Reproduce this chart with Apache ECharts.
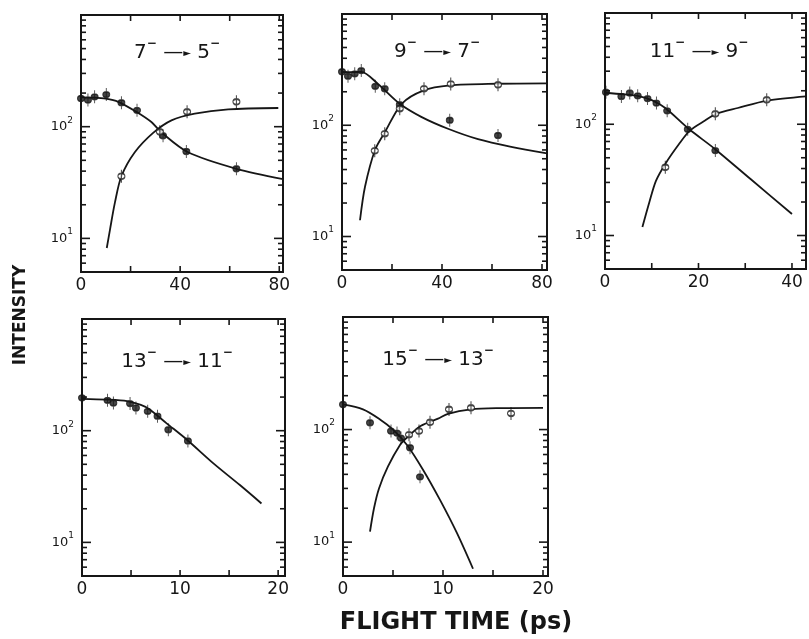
<!DOCTYPE html>
<html>
<head>
<meta charset="utf-8">
<script src="https://cdn.jsdelivr.net/npm/echarts@6/dist/echarts.min.js"></script>
<style>
html, body { margin: 0; padding: 0; background: #fff; }
#chart { width: 809px; height: 639px; }
</style>
</head>
<body>
<div id="chart"></div>
<script>
// ---- data (flight time in ps, intensity) ----
// panel 1: 7- -> 5-
var p1DecayT = [0, 2.8, 5.5, 10.2, 16.3, 22.6, 33.1, 42.5, 62.7];
var p1DecayI = [179, 173, 185, 194, 164, 140, 83, 60, 42];
var p1GrowT = [16.3, 31.8, 42.8, 62.7];
var p1GrowI = [36, 90, 136, 167];
var p1DecayFitT = [0, 5, 10, 15, 22.3, 28.4, 32.4, 43.2, 62.7, 81.5];
var p1DecayFitI = [183, 182, 178, 167, 136, 110, 89, 59, 42, 34];
var p1GrowFitT = [10.4, 11.7, 13.7, 16.3, 21.7, 29.1, 36.5, 45.9, 59.4, 79.6];
var p1GrowFitI = [8.2, 12, 21, 36, 59, 88, 114, 131, 143, 147];

// panel 2: 9- -> 7-
var p2DecayT = [0, 2.4, 5.1, 7.7, 13.3, 17.1, 23.1, 43.1, 62.4];
var p2DecayI = [303, 276, 290, 310, 224, 213, 153, 111, 81];
var p2GrowT = [13.1, 17.1, 23.1, 32.8, 43.5, 62.4];
var p2GrowI = [59, 84, 141, 213, 235, 231];
var p2DecayFitT = [0, 4, 7.7, 14.4, 23.1, 31.7, 42.4, 54.4, 67.7, 82];
var p2DecayFitI = [300, 300, 302, 235, 156, 119, 93, 75, 64, 56];
var p2GrowFitT = [7.2, 9.2, 13.2, 17.2, 23.9, 32.5, 43.2, 61.9, 82];
var p2GrowFitI = [14, 28, 60, 87, 156, 205, 228, 236, 238];

// panel 3: 11- -> 9-
var p3DecayT = [0.2, 3.5, 5.3, 7.0, 9.1, 11.0, 13.3, 17.7, 23.6];
var p3DecayI = [194, 178, 191, 180, 170, 155, 132, 90, 58];
var p3GrowT = [12.9, 23.6, 34.6];
var p3GrowI = [41, 124, 166];
var p3DecayFitT = [0, 4, 7, 10, 12.9, 17.9, 23.5, 31.2, 40];
var p3DecayFitI = [192, 186, 180, 165, 140, 91, 60, 32, 15.6];
var p3GrowFitT = [8, 9.5, 10.9, 12.9, 15.8, 18.2, 21.4, 23.8, 28.4, 34.7, 43];
var p3GrowFitI = [11.9, 20, 31, 44, 66, 88, 108, 124, 140, 163, 178];

// panel 4: 13- -> 11-
var p4DecayT = [0, 2.6, 3.2, 4.9, 5.5, 6.7, 7.7, 8.8, 10.8];
var p4DecayI = [197, 187, 177, 175, 160, 149, 135, 102, 81];
var p4DecayFitT = [0, 2.5, 4.6, 6, 6.9, 8.6, 10.7, 13.4, 16.1, 18.3];
var p4DecayFitI = [193, 190, 184, 170, 155, 117, 83, 51, 32.6, 22.3];

// panel 5: 15- -> 13-
var p5DecayT = [0, 2.7, 4.8, 5.4, 5.8, 6.7, 7.7];
var p5DecayI = [167, 115, 97, 93, 84, 69, 38];
var p5GrowT = [6.6, 7.6, 8.7, 10.6, 12.8, 16.8];
var p5GrowI = [90, 97, 116, 151, 156, 139];
var p5DecayFitT = [0, 2, 3.7, 5, 6.4, 8, 9.7, 11.4, 13];
var p5DecayFitI = [167, 151, 123, 100, 73, 44, 23.7, 12, 5.8];
var p5GrowFitT = [2.7, 3.1, 3.6, 4.5, 5.7, 6.4, 7.8, 9.5, 10.5, 12.8, 15.4, 20];
var p5GrowFitI = [12.4, 20, 30, 47, 73, 85, 108, 125, 138, 151, 155, 156];

// ticks of the log intensity axis and of the time axes
var yMinorTicks = [5, 6, 7, 8, 9, 20, 30, 40, 50, 60, 70, 80, 90, 200, 300, 400, 500, 600, 700, 800, 900];
var yMajorTicks = [10, 100, 1000];
var xTicksLong = [20, 40, 60, 80];
var xTicksMid = [10, 20, 30, 40];
var xTicksShort = [5, 10, 15, 20];
var yMin = 5, yMax = 1000;

function zip(t, v) {
    return t.map(function (x, i) { return [x, v[i]]; });
}

// layout of the five frames
var panels = [
    { box: { left: 81, top: 15, width: 202, height: 257 }, xMax: 81.5, labelStep: 40, xTicks: xTicksLong,
      title: ['7', '5'], tx: 177, ty: 53,
      decay: zip(p1DecayT, p1DecayI), grow: zip(p1GrowT, p1GrowI),
      decayFit: zip(p1DecayFitT, p1DecayFitI), growFit: zip(p1GrowFitT, p1GrowFitI) },
    { box: { left: 342, top: 14, width: 205, height: 256 }, xMax: 82, labelStep: 40, xTicks: xTicksLong,
      title: ['9', '7'], tx: 437, ty: 52,
      decay: zip(p2DecayT, p2DecayI), grow: zip(p2GrowT, p2GrowI),
      decayFit: zip(p2DecayFitT, p2DecayFitI), growFit: zip(p2GrowFitT, p2GrowFitI) },
    { box: { left: 605, top: 13, width: 204, height: 256 }, xMax: 43, labelStep: 20, xTicks: xTicksMid,
      title: ['11', '9'], tx: 699, ty: 52,
      decay: zip(p3DecayT, p3DecayI), grow: zip(p3GrowT, p3GrowI),
      decayFit: zip(p3DecayFitT, p3DecayFitI), growFit: zip(p3GrowFitT, p3GrowFitI) },
    { box: { left: 82, top: 319, width: 203, height: 257 }, xMax: 20.7, labelStep: 10, xTicks: xTicksShort,
      title: ['13', '11'], tx: 177, ty: 362,
      decay: zip(p4DecayT, p4DecayI), grow: [],
      decayFit: zip(p4DecayFitT, p4DecayFitI), growFit: [] },
    { box: { left: 343, top: 317, width: 205, height: 259 }, xMax: 20.5, labelStep: 10, xTicks: xTicksShort,
      title: ['15', '13'], tx: 438, ty: 360,
      decay: zip(p5DecayT, p5DecayI), grow: zip(p5GrowT, p5GrowI),
      decayFit: zip(p5DecayFitT, p5DecayFitI), growFit: zip(p5GrowFitT, p5GrowFitI) }
];

var INK = '#161616';
var markPath = 'path://M5 0 L5 16 M5 4.5 A3.5 3.5 0 1 1 5 11.5 A3.5 3.5 0 1 1 5 4.5 Z';

var grids = [], xAxes = [], yAxes = [], series = [], graphics = [];

// short inside tick bars, positioned through the panel's own axes
function tickSeries(i, data, size, offset) {
    return {
        type: 'scatter', xAxisIndex: i, yAxisIndex: i, data: data, silent: true, clip: false, z: 6,
        symbol: 'rect', symbolSize: size, symbolOffset: offset,
        itemStyle: { color: INK, opacity: 1 }
    };
}

panels.forEach(function (p, i) {
    grids.push({
        left: p.box.left, top: p.box.top, width: p.box.width, height: p.box.height,
        show: true, borderColor: INK, borderWidth: 2, backgroundColor: 'transparent'
    });
    xAxes.push({
        gridIndex: i, type: 'value', min: 0, max: p.xMax, interval: p.labelStep,
        axisLine: { show: false }, axisTick: { show: false }, splitLine: { show: false },
        axisLabel: {
            margin: 5, color: INK, fontSize: 17, fontFamily: 'DejaVu Sans',
            formatter: function (v) { return (Math.abs(v % p.labelStep) < 1e-6) ? String(v) : ''; }
        }
    });
    yAxes.push({
        gridIndex: i, type: 'log', min: yMin, max: yMax,
        axisLine: { show: false }, axisTick: { show: false }, splitLine: { show: false },
        axisLabel: {
            margin: 8, color: INK,
            formatter: function (v) {
                if (Math.abs(v - 10) < 1e-6) return '{b|10}{s|1}';
                if (Math.abs(v - 100) < 1e-6) return '{b|10}{s|2}';
                return '';
            },
            rich: {
                b: { fontSize: 13, fontFamily: 'DejaVu Sans', color: INK, lineHeight: 22 },
                s: { fontSize: 9, fontFamily: 'DejaVu Sans', color: INK, verticalAlign: 'top' }
            }
        }
    });

    // inside ticks on all four sides
    var at = function (list, x) { return list.map(function (v) { return [x, v]; }); };
    var atX = function (list, y) { return list.map(function (t) { return [t, y]; }); };
    series.push(tickSeries(i, at(yMinorTicks, 0), [5, 1.6], [2.5, 0]));
    series.push(tickSeries(i, at(yMinorTicks, p.xMax), [5, 1.6], [-2.5, 0]));
    series.push(tickSeries(i, at(yMajorTicks, 0), [9, 1.6], [4.5, 0]));
    series.push(tickSeries(i, at(yMajorTicks, p.xMax), [9, 1.6], [-4.5, 0]));
    series.push(tickSeries(i, atX(p.xTicks, yMin), [1.6, 6], [0, -3]));
    series.push(tickSeries(i, atX(p.xTicks, yMax), [1.6, 6], [0, 3]));

    [p.decayFit, p.growFit].forEach(function (d) {
        if (!d.length) return;
        series.push({
            type: 'line', xAxisIndex: i, yAxisIndex: i, data: d, smooth: 0.3,
            showSymbol: false, silent: true, z: 4,
            lineStyle: { color: INK, width: 1.8 }
        });
    });
    series.push({
        type: 'scatter', xAxisIndex: i, yAxisIndex: i, data: p.decay, z: 5, silent: true, clip: false,
        symbol: markPath, symbolSize: [7, 13],
        itemStyle: { color: INK, borderColor: INK, borderWidth: 1.2 }
    });
    if (p.grow.length) {
        series.push({
            type: 'scatter', xAxisIndex: i, yAxisIndex: i, data: p.grow, z: 5, silent: true,
            symbol: markPath, symbolSize: [7, 13],
            itemStyle: { color: '#fff', borderColor: INK, borderWidth: 1.4 }
        });
    }

    // transition label, e.g. 7- -> 5-
    graphics.push({
        type: 'text', x: p.tx, y: p.ty, z: 10,
        style: {
            text: '{n|' + p.title[0] + '}{s|−}{a| —}{h|►}{n| ' + p.title[1] + '}{s|−}',
            align: 'center', verticalAlign: 'middle',
            rich: {
                n: { fontSize: 20, fontFamily: 'DejaVu Sans', fill: INK, lineHeight: 30 },
                s: { fontSize: 12, fontFamily: 'DejaVu Sans', fontWeight: 'bold', fill: INK, verticalAlign: 'top' },
                a: { fontSize: 20, fontFamily: 'DejaVu Sans', fill: INK, lineHeight: 30 },
                h: { fontSize: 10, fontFamily: 'DejaVu Sans', fill: INK, lineHeight: 30 }
            }
        }
    });
});

graphics.push({
    type: 'text', x: 21, y: 315, rotation: Math.PI / 2,
    style: { text: 'INTENSITY', font: 'bold 17px "DejaVu Sans"', fill: INK, align: 'center', verticalAlign: 'middle' }
});
graphics.push({
    type: 'text', x: 456, y: 623,
    style: { text: 'FLIGHT TIME (ps)', font: 'bold 24px "DejaVu Sans"', fill: INK, align: 'center', verticalAlign: 'middle' }
});

var myChart = echarts.init(document.getElementById('chart'));
myChart.setOption({
    animation: false,
    backgroundColor: '#fff',
    grid: grids,
    xAxis: xAxes,
    yAxis: yAxes,
    series: series,
    graphic: graphics
});
</script>
</body>
</html>
